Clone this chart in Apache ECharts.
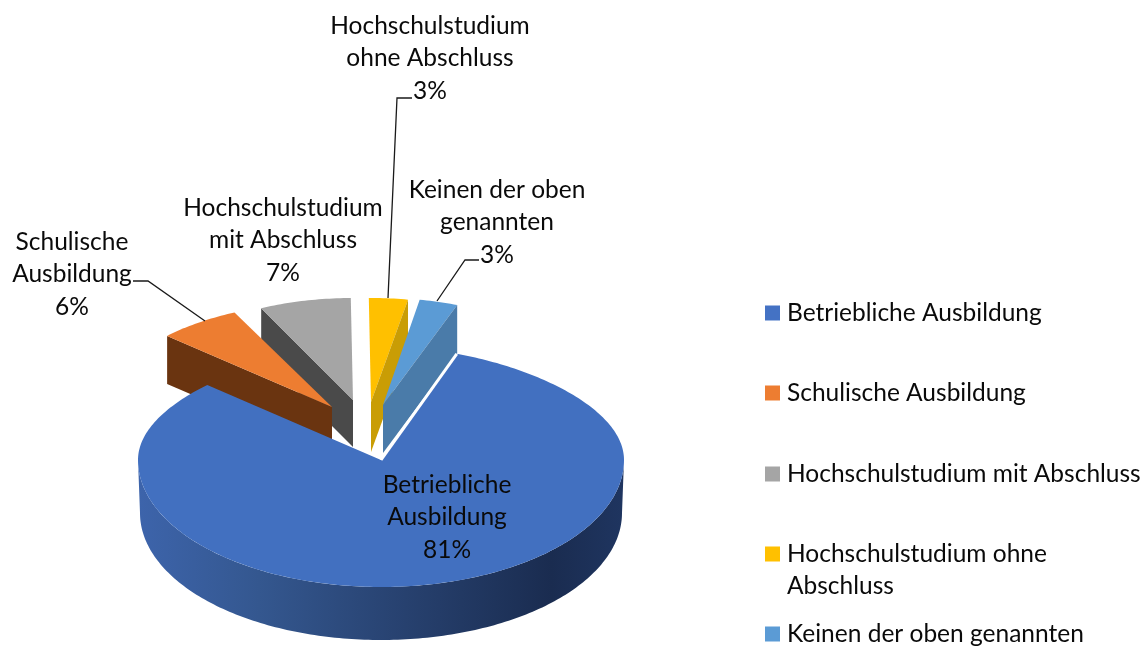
<!DOCTYPE html>
<html><head><meta charset="utf-8">
<style>html,body{margin:0;padding:0;background:#fff}#c{width:1145px;height:647px}</style>
<script src="https://cdn.jsdelivr.net/npm/echarts@6/dist/echarts.min.js"></script>
</head><body><div id="c"></div>
<script>
const categories = ['Betriebliche Ausbildung','Schulische Ausbildung','Hochschulstudium mit Abschluss','Hochschulstudium ohne Abschluss','Keinen der oben genannten'];
const values = [81, 6, 7, 3, 3];
const topColors = ['#4472C4','#ED7D31','#A5A5A5','#FFC000','#5B9BD5'];
const wallColors = ['#2C4A80','#6A3410','#4A4A4A','#C99D05','#4A7BA9'];
const labelLines = [
  ['Betriebliche','Ausbildung'],
  ['Schulische','Ausbildung'],
  ['Hochschulstudium','mit Abschluss'],
  ['Hochschulstudium','ohne Abschluss'],
  ['Keinen der oben','genannten']
];
const legendLabels = ['Betriebliche Ausbildung','Schulische Ausbildung','Hochschulstudium mit Abschluss','Hochschulstudium ohne\nAbschluss','Keinen der oben genannten'];

// layout only: apex, radii and depth of each exploded slice, label anchors, leader lines
const START_ANGLE = 20;
const FONT = 'Lato, Carlito, sans-serif';
const FS = 24.5, LH = 32.5;
const geom = [
  {cx:381,cy:460,rx:243,ry:127,ryBack:113,narrow:.1,rot:0,d:53,z:6,label:[447,485],wall:'outer',fill:'#4270C0'},
  {cx:332,cy:407,rx:224,ry:105,rot:1,d:48,z:3,label:[72,242],wall:'left',leader:[[133,281],[148,281],[205,321]]},
  {cx:353,cy:400,rx:211,ry:102,rot:1,d:47,z:2,label:[283,208],wall:'left'},
  {cx:371,cy:402,rx:209,ry:104,rot:1,d:50,z:3,label:[430,26],wall:'right',leader:[[412,98],[397,98],[388,298]]},
  {cx:383,cy:405,rx:207,ry:107,rot:1,d:48,z:4,label:[497,190],wall:'right',leader:[[479,260],[465,260],[437,301]]}
];
const legendCenters = [313,393,474,570,634];

const total = values.reduce((a,b)=>a+b,0);
function sliceAngles(i){
  let before = 0;
  for(let k=0;k<i;k++) before += values[k];
  const a0 = START_ANGLE + geom[i].rot + before/total*360;
  return [a0, a0 + values[i]/total*360];
}
function pt(g,a,dy){
  const r = a*Math.PI/180;
  const c = Math.cos(r), s = Math.sin(r);
  const back = c>0;
  const k = back && g.narrow ? 1-g.narrow*c*c : 1;
  const ry = back && g.ryBack ? g.ryBack : g.ry;
  return [g.cx + g.rx*k*s, g.cy - ry*c + (dy||0)];
}
function arc(g,a0,a1,dy){
  const pts=[]; const n=Math.max(2,Math.ceil(Math.abs(a1-a0)));
  for(let k=0;k<=n;k++) pts.push(pt(g,a0+(a1-a0)*k/n,dy));
  return pts;
}
function makeRender(i){
  return function(params, api){
    const v = api.value(0);
    const g = geom[i];
    const [a0,a1] = sliceAngles(i);
    const apex=[g.cx,g.cy];
    const children=[];
    const top = [apex].concat(arc(g,a0,a1));
    const fill = g.fill || topColors[i];
    if(g.wall==='outer'){
      const front = arc(g,90,270);
      const g2 = Object.assign({},g,{rx:g.rx-2});
      const back = arc(g2,270,90,g.d);
      children.push({type:'polygon',shape:{points:front.concat(back)},style:{fill:{type:'linear',x:0,y:0,x2:1,y2:0,colorStops:[
        {offset:0,color:'#3D64AB'},{offset:.25,color:'#34578F'},{offset:.55,color:'#27416F'},{offset:.85,color:'#1A2C50'},{offset:1,color:'#1F3560'}]}}});
    }
    if(g.wall==='left' || g.wall==='right'){
      const o = pt(g, g.wall==='left'?a0:a1);
      const wall=[apex,o,[o[0],o[1]+g.d],[apex[0],apex[1]+g.d]];
      if(g.wall==='right'){
        children.push({type:'polygon',shape:{points:top},style:{fill}});
        children.push({type:'polygon',shape:{points:wall},style:{fill:wallColors[i]}});
      } else {
        children.push({type:'polygon',shape:{points:wall},style:{fill:wallColors[i]}});
        children.push({type:'polygon',shape:{points:top},style:{fill}});
      }
    } else {
      children.push({type:'polygon',shape:{points:top},style:{fill}});
      children.push({type:'polyline',shape:{points:[pt(g,a0),apex]},style:{stroke:'#fff',lineWidth:3,fill:null}});
    }
    if(g.leader){
      children.push({type:'polyline',shape:{points:g.leader},style:{stroke:'#1a1a1a',lineWidth:1.3,fill:null}});
    }
    const lines = labelLines[i].concat([v+'%']);
    lines.forEach((t,k)=>{
      children.push({type:'text',style:{text:t,x:g.label[0],y:g.label[1]+k*LH,align:'center',verticalAlign:'middle',font:FS+'px '+FONT,fill:'#0a0a0a'}});
    });
    return {type:'group',children};
  };
}
const series = categories.map((name,i)=>({
  type:'custom', name, coordinateSystem:'none', z:geom[i].z,
  itemStyle:{color:topColors[i]}, silent:true, animation:false,
  data:[[values[i]]], renderItem:makeRender(i)
}));
const legend = categories.map((name,i)=>{
  const two = legendLabels[i].indexOf('\n')>=0;
  const h = two?47:15;
  return {
    show:true, data:[{name, icon: two?'path://M0 0H15V15H0Z M0 47H15V47H0Z':'rect'}],
    left:765, top: legendCenters[i]-(two?LH:LH/2), padding:0, orient:'vertical',
    itemWidth:15, itemHeight:h, selectedMode:false, itemStyle:{color:topColors[i]},
    formatter:()=>legendLabels[i],
    textStyle:{fontFamily:FONT,fontSize:FS,color:'#0a0a0a',lineHeight:LH,padding:[0,0,0,2]}
  };
});
const chart = echarts.init(document.getElementById('c'),null,{renderer:'canvas'});
chart.setOption({animation:false,backgroundColor:'#fff',legend,series});
</script></body></html>
